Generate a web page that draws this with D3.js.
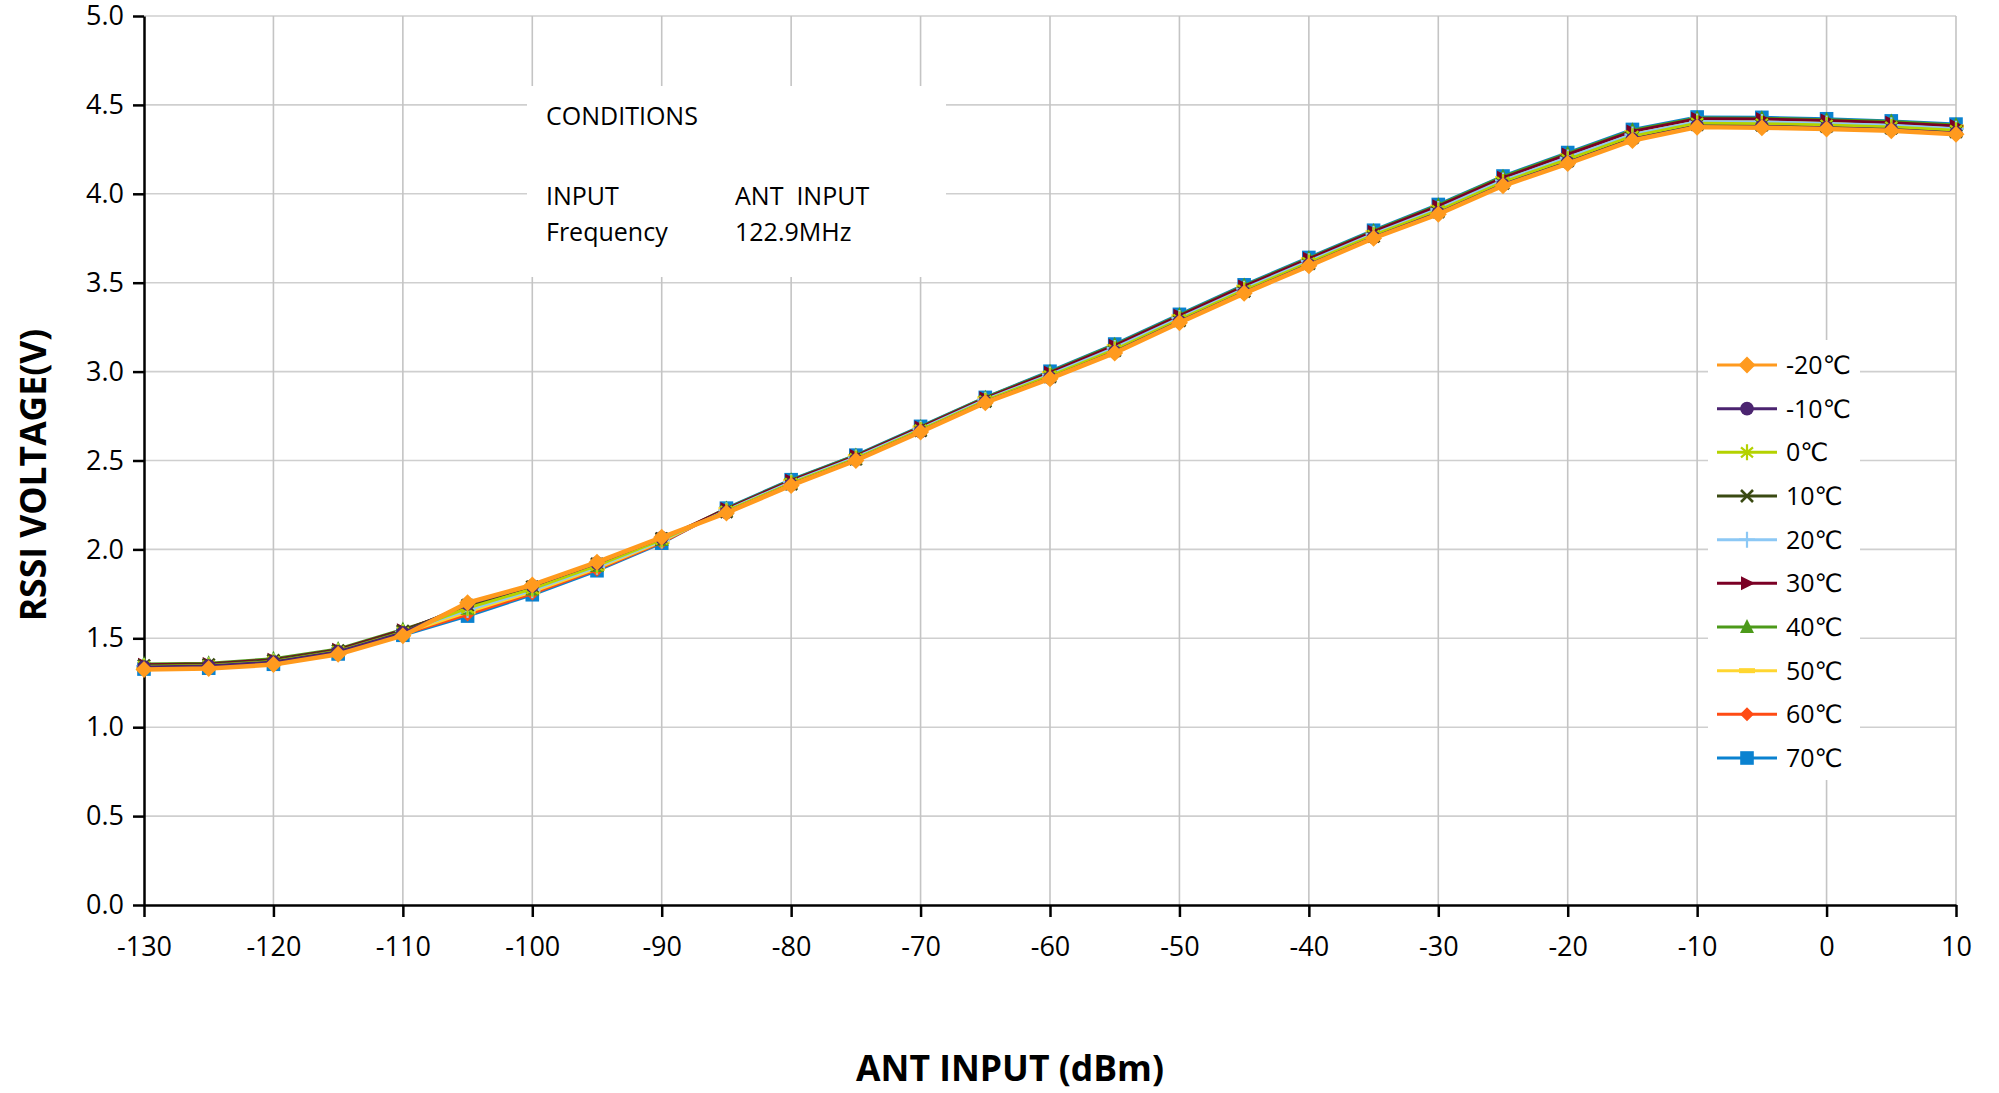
<!DOCTYPE html>
<html lang="en">
<head>
<meta charset="utf-8">
<title>RSSI Voltage vs ANT Input</title>
<script src="https://d3js.org/d3.v7.min.js"></script>
<style>
  body { margin: 0; background: #fff; font-family: 'Open Sans', 'DejaVu Sans', sans-serif; }
  svg text { fill: #000; }
</style>
</head>
<body>
<div id="chart"></div>
<script>
// ANT input (dBm) sample points
var inputDbm = [-130,-125,-120,-115,-110,-105,-100,-95,-90,-85,-80,-75,-70,-65,-60,-55,-50,-45,-40,-35,-30,-25,-20,-15,-10,-5,0,5,10];

var xTicks = [-130,-120,-110,-100,-90,-80,-70,-60,-50,-40,-30,-20,-10,0,10];
var yTicks = [0,0.5,1,1.5,2,2.5,3,3.5,4,4.5,5];

var seriesNames = ["-20℃","-10℃","0℃","10℃","20℃","30℃","40℃","50℃","60℃","70℃"];
var seriesColors = ["#ff9a1e","#4b2470","#b4d200","#3a4a12","#8cc8f5","#7b0025","#4c9a1a","#ffd630","#ff4b14","#0a82d0"];
var seriesShapes = ["diamond","circle","asterisk","cross","plus","triRight","triUp","dash","diamond","square"];

// RSSI voltage (V) per temperature
var vM20 = [1.325,1.330,1.352,1.410,1.515,1.700,1.800,1.928,2.068,2.205,2.360,2.500,2.660,2.825,2.960,3.105,3.275,3.440,3.595,3.750,3.885,4.045,4.170,4.300,4.375,4.372,4.365,4.355,4.335];
var vM10 = [1.339,1.344,1.367,1.424,1.531,1.693,1.795,1.923,2.065,2.208,2.364,2.504,2.664,2.829,2.965,3.111,3.281,3.446,3.601,3.755,3.892,4.052,4.177,4.307,4.382,4.379,4.372,4.362,4.342];
var v0   = [1.342,1.347,1.370,1.427,1.534,1.670,1.778,1.909,2.055,2.215,2.372,2.511,2.672,2.836,2.976,3.124,3.293,3.458,3.613,3.767,3.906,4.066,4.194,4.324,4.397,4.394,4.387,4.376,4.357];
var v10  = [1.346,1.351,1.375,1.431,1.540,1.685,1.789,1.918,2.061,2.212,2.368,2.508,2.668,2.833,2.971,3.118,3.287,3.452,3.607,3.761,3.899,4.059,4.186,4.316,4.389,4.387,4.379,4.369,4.349];
var v20  = [1.343,1.348,1.372,1.428,1.536,1.659,1.770,1.902,2.050,2.220,2.378,2.517,2.678,2.842,2.983,3.133,3.301,3.466,3.621,3.775,3.915,4.075,4.204,4.334,4.406,4.404,4.396,4.385,4.366];
var v30  = [1.351,1.356,1.380,1.436,1.545,1.678,1.784,1.914,2.058,2.227,2.386,2.525,2.686,2.850,2.994,3.146,3.314,3.479,3.634,3.787,3.930,4.090,4.221,4.351,4.422,4.420,4.412,4.400,4.382];
var v40  = [1.355,1.360,1.385,1.440,1.550,1.666,1.775,1.906,2.053,2.230,2.389,2.528,2.689,2.853,2.999,3.151,3.318,3.484,3.638,3.791,3.936,4.096,4.227,4.357,4.427,4.425,4.417,4.406,4.387];
var v50  = [1.334,1.339,1.362,1.419,1.526,1.648,1.762,1.894,2.045,2.224,2.383,2.522,2.683,2.847,2.990,3.141,3.309,3.475,3.629,3.782,3.925,4.085,4.215,4.345,4.416,4.414,4.406,4.395,4.376];
var v60  = [1.331,1.336,1.359,1.416,1.522,1.634,1.752,1.886,2.039,2.223,2.381,2.520,2.681,2.845,2.987,3.138,3.306,3.471,3.626,3.779,3.921,4.081,4.210,4.340,4.412,4.410,4.402,4.391,4.372];
var v70  = [1.327,1.332,1.354,1.412,1.517,1.625,1.745,1.880,2.035,2.232,2.392,2.530,2.692,2.855,3.002,3.155,3.322,3.488,3.642,3.795,3.940,4.100,4.232,4.362,4.432,4.430,4.422,4.410,4.392];

var seriesValues = [vM20,vM10,v0,v10,v20,v30,v40,v50,v60,v70];

var conditionLines = [
  ["CONDITIONS", ""],
  ["INPUT", "ANT  INPUT"],
  ["Frequency", "122.9MHz"]
];

var W = 1999, H = 1093;
var svg = d3.select("#chart").append("svg").attr("width", W).attr("height", H);

var x = d3.scaleLinear().domain([-130, 10]).range([144, 1956]);
var y = d3.scaleLinear().domain([0, 5]).range([905, 16]);

// gridlines
svg.append("g").selectAll("line").data(yTicks.filter(d => d > 0)).join("line")
    .attr("x1", x(-130)).attr("x2", x(10))
    .attr("y1", d => y(d)).attr("y2", d => y(d))
    .style("stroke", "#cfcfcf").style("stroke-width", 1.6);
svg.append("g").selectAll("line").data(xTicks.filter(d => d > -130)).join("line")
    .attr("x1", d => x(d)).attr("x2", d => x(d))
    .attr("y1", y(0)).attr("y2", y(5))
    .style("stroke", "#c4c4c4").style("stroke-width", 1.6);

// white boxes over the grid
svg.append("rect").attr("x", 527).attr("y", 86).attr("width", 419).attr("height", 191).attr("fill", "#fff");
svg.append("rect").attr("x", 1708).attr("y", 340).attr("width", 152).attr("height", 440).attr("fill", "#fff");

// axes
var xAxis = svg.append("g").attr("transform", "translate(0," + y(0) + ")")
    .call(d3.axisBottom(x).tickValues(xTicks).tickSize(12).tickSizeOuter(0).tickPadding(20).tickFormat(d => String(d)));
var yAxis = svg.append("g").attr("transform", "translate(" + x(-130) + ",0)")
    .call(d3.axisLeft(y).tickValues(yTicks).tickSize(11).tickSizeOuter(0).tickPadding(9).tickFormat(d3.format(".1f")));
[xAxis, yAxis].forEach(function(a) {
    a.select(".domain").style("stroke", "#000").style("stroke-width", 2.5);
    a.selectAll(".tick line").style("stroke", "#000").style("stroke-width", 2.5);
    a.selectAll("text").style("font-family", "'Open Sans', 'DejaVu Sans', sans-serif")
        .style("font-size", "27px").style("fill", "#000");
});

// axis titles
svg.append("text").attr("x", 1010).attr("y", 1081).attr("text-anchor", "middle")
    .style("font-size", "35.5px").style("font-weight", "bold")
    .text("ANT INPUT (dBm)");
svg.append("text").attr("transform", "translate(46,475) rotate(-90)").attr("text-anchor", "middle")
    .style("font-size", "35.5px").style("font-weight", "bold")
    .text("RSSI VOLTAGE(V)");

// conditions text
var condY = [125, 205, 241];
conditionLines.forEach(function(row, i) {
    svg.append("text").attr("x", 546).attr("y", condY[i]).style("font-size", "25px").text(row[0]);
    svg.append("text").attr("x", 735).attr("y", condY[i]).style("font-size", "25px")
        .attr("xml:space", "preserve").style("white-space", "pre").text(row[1]);
});

function drawMarker(g, shape, color) {
    if (shape === "diamond") {
        var s = color === "#ff9a1e" ? 8.5 : 7;
        g.append("path").attr("d", "M0," + (-s) + "L" + s + ",0L0," + s + "L" + (-s) + ",0Z").attr("fill", color);
    } else if (shape === "circle") {
        g.append("circle").attr("r", 6.8).attr("fill", color);
    } else if (shape === "square") {
        g.append("rect").attr("x", -6.8).attr("y", -6.8).attr("width", 13.6).attr("height", 13.6).attr("fill", color);
    } else if (shape === "triUp") {
        g.append("path").attr("d", "M0,-8L7,6L-7,6Z").attr("fill", color);
    } else if (shape === "triRight") {
        g.append("path").attr("d", "M-6,-7L8,0L-6,7Z").attr("fill", color);
    } else if (shape === "dash") {
        g.append("rect").attr("x", -8).attr("y", -2.5).attr("width", 16).attr("height", 5).attr("fill", color);
    } else if (shape === "plus") {
        g.append("path").attr("d", "M0,-8V8M-8,0H8").attr("stroke", color).attr("stroke-width", 2.2).attr("fill", "none");
    } else if (shape === "cross") {
        g.append("path").attr("d", "M-6,-6L6,6M-6,6L6,-6").attr("stroke", color).attr("stroke-width", 2.6).attr("fill", "none");
    } else if (shape === "asterisk") {
        g.append("path").attr("d", "M0,-8V8M-6,-5L6,5M-6,5L6,-5").attr("stroke", color).attr("stroke-width", 2.2).attr("fill", "none");
    }
}

// series, drawn from 70℃ down to -20℃ so -20℃ ends on top
var line = d3.line().x(d => x(d[0])).y(d => y(d[1]));
var order = d3.range(seriesNames.length).reverse();
order.forEach(function(i) {
    var pts = inputDbm.map((v, j) => [v, seriesValues[i][j]]);
    var g = svg.append("g");
    g.append("path").datum(pts).attr("d", line).attr("fill", "none")
        .attr("stroke", seriesColors[i]).attr("stroke-width", i === 0 ? 4.5 : 3)
        .attr("stroke-linejoin", "round");
    pts.forEach(function(p) {
        var m = g.append("g").attr("transform", "translate(" + x(p[0]) + "," + y(p[1]) + ")");
        drawMarker(m, seriesShapes[i], seriesColors[i]);
    });
});

// legend
var legY = d3.scaleLinear().domain([0, 9]).range([365, 758]);
seriesNames.forEach(function(name, i) {
    var g = svg.append("g").attr("transform", "translate(0," + legY(i) + ")");
    g.append("line").attr("x1", 1717).attr("x2", 1777).attr("y1", 0).attr("y2", 0)
        .attr("stroke", seriesColors[i]).attr("stroke-width", 3);
    var m = g.append("g").attr("transform", "translate(1747,0)");
    drawMarker(m, seriesShapes[i], seriesColors[i]);
    g.append("text").attr("x", 1786).attr("y", 9).style("font-size", "25px").text(name);
});
</script>
</body>
</html>
